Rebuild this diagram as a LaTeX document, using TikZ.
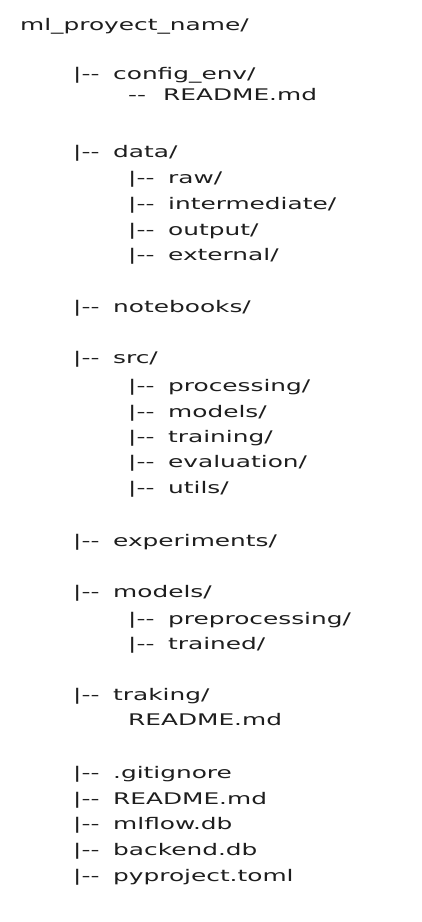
\documentclass[tikz,border=0pt]{standalone}
\usepackage{fontspec}
\newfontfamily\handf[FakeStretch=1.55]{DejaVu Sans}
\definecolor{ink}{HTML}{1E1E1E}
\tikzset{
  lbl/.style={anchor=base west, inner sep=0pt, text=ink, font=\handf\fontsize{16}{19}\selectfont},
}
\newcommand{\brn}{\makebox[40pt][l]{|--}}
\newcommand{\dsh}{\makebox[35pt][l]{--}}
\begin{document}
\begin{tikzpicture}[x=1pt,y=1pt]
\useasboundingbox[fill=white] (0,0) rectangle (422,-922);
\node[lbl] (root) at (20,-30) {ml\_proyect\_name/};
\node[lbl] (cfg) at (73,-79) {\brn config\_env/};
\node[lbl] (cfgr) at (128,-100) {\dsh README.md};
\node[lbl] (data) at (73,-157) {\brn data/};
\node[lbl] (raw) at (128,-183) {\brn raw/};
\node[lbl] (inter) at (128,-209) {\brn intermediate/};
\node[lbl] (out) at (128,-235) {\brn output/};
\node[lbl] (ext) at (128,-260) {\brn external/};
\node[lbl] (nb) at (73,-312) {\brn notebooks/};
\node[lbl] (src) at (73,-363) {\brn src/};
\node[lbl] (proc) at (128,-391) {\brn processing/};
\node[lbl] (smod) at (128,-417) {\brn models/};
\node[lbl] (train) at (128,-442) {\brn training/};
\node[lbl] (eval) at (128,-467) {\brn evaluation/};
\node[lbl] (utils) at (128,-493) {\brn utils/};
\node[lbl] (exp) at (73,-546) {\brn experiments/};
\node[lbl] (mod) at (73,-597) {\brn models/};
\node[lbl] (prep) at (128,-624) {\brn preprocessing/};
\node[lbl] (trd) at (128,-649) {\brn trained/};
\node[lbl] (trk) at (73,-700) {\brn traking/};
\node[lbl] (trkr) at (128,-725) {README.md};
\node[lbl] (git) at (73,-778) {\brn .gitignore};
\node[lbl] (rdm) at (73,-804) {\brn README.md};
\node[lbl] (mlf) at (73,-829) {\brn mlflow.db};
\node[lbl] (bck) at (73,-855) {\brn backend.db};
\node[lbl] (pyp) at (73,-881) {\brn pyproject.toml};
\end{tikzpicture}
\end{document}
